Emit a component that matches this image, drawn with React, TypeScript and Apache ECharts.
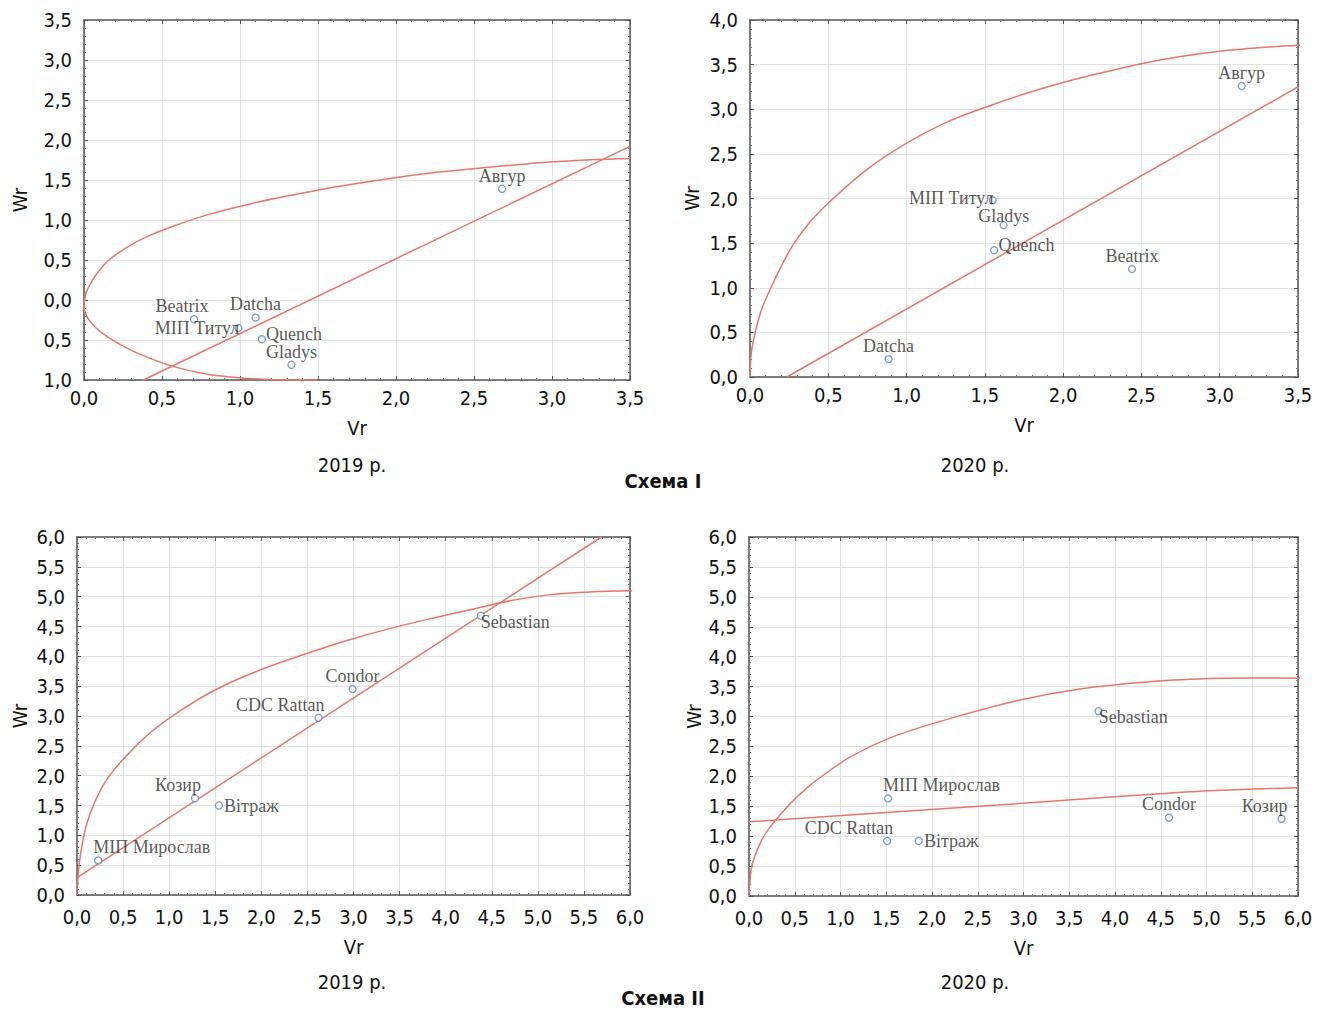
import React, { useEffect, useRef } from "react";
import * as echarts from "echarts";

// ---------- Схема I, 2019 р. ----------
const s1y19Names = ["Авгур", "Beatrix", "Datcha", "МІП Титул", "Quench", "Gladys"];
const s1y19Vr = [2.68, 0.705, 1.10, 0.99, 1.14, 1.33];
const s1y19Wr = [1.39, -0.24, -0.22, -0.35, -0.49, -0.81];
const s1y19UpperVr = [0, 0.004, 0.016, 0.04, 0.09, 0.16, 0.26, 0.38, 0.54, 0.8, 1.085, 1.357, 1.628, 1.899, 2.171, 2.442, 2.713, 2.984, 3.256, 3.5];
const s1y19UpperWr = [-0.1, 0.0, 0.1, 0.2, 0.35, 0.5, 0.64, 0.77, 0.9, 1.07, 1.21, 1.32, 1.42, 1.5, 1.575, 1.63, 1.68, 1.725, 1.754, 1.77];
const s1y19LowerVr = [0, 0.01, 0.04, 0.1, 0.2, 0.35, 0.57, 0.8, 1.05, 1.3, 1.49];
const s1y19LowerWr = [-0.1, -0.17, -0.27, -0.39, -0.52, -0.67, -0.83, -0.93, -0.98, -1.0, -1.0];
const s1y19LineVr = [0.38, 3.5];
const s1y19LineWr = [-1.0, 1.92];

// ---------- Схема I, 2020 р. ----------
const s1y20Names = ["Авгур", "МІП Титул", "Gladys", "Quench", "Beatrix", "Datcha"];
const s1y20Vr = [3.14, 1.55, 1.62, 1.56, 2.44, 0.885];
const s1y20Wr = [3.26, 1.98, 1.70, 1.42, 1.21, 0.2];
const s1y20UpperVr = [0, 0.008, 0.032, 0.073, 0.127, 0.194, 0.275, 0.38, 0.5, 0.75, 1.0, 1.25, 1.5, 1.75, 2.0, 2.25, 2.5, 2.75, 3.0, 3.25, 3.55];
const s1y20UpperWr = [0, 0.265, 0.49, 0.75, 0.975, 1.22, 1.48, 1.73, 1.95, 2.33, 2.62, 2.85, 3.02, 3.17, 3.3, 3.41, 3.51, 3.59, 3.65, 3.69, 3.72];
const s1y20LineVr = [0.235, 3.5];
const s1y20LineWr = [0, 3.25];

// ---------- Схема II, 2019 р. ----------
const s2y19Names = ["Sebastian", "Condor", "CDC Rattan", "Козир", "Вітраж", "МІП Мирослав"];
const s2y19Vr = [4.38, 2.99, 2.62, 1.28, 1.54, 0.23];
const s2y19Wr = [4.68, 3.45, 2.97, 1.62, 1.5, 0.58];
const s2y19UpperVr = [0, 0.014, 0.041, 0.1, 0.19, 0.33, 0.54, 0.81, 1.13, 1.54, 2.0, 2.46, 2.92, 3.38, 3.83, 4.29, 4.7, 5.12, 5.57, 6.1];
const s2y19UpperWr = [0, 0.37, 0.71, 1.16, 1.55, 1.95, 2.34, 2.74, 3.1, 3.47, 3.78, 4.03, 4.26, 4.46, 4.63, 4.79, 4.93, 5.03, 5.08, 5.1];
const s2y19LineVr = [0, 5.69];
const s2y19LineWr = [0.29, 6.0];

// ---------- Схема II, 2020 р. ----------
const s2y20Names = ["Sebastian", "МІП Мирослав", "Condor", "Козир", "CDC Rattan", "Вітраж"];
const s2y20Vr = [3.82, 1.52, 4.59, 5.82, 1.51, 1.855];
const s2y20Wr = [3.09, 1.63, 1.31, 1.29, 0.92, 0.92];
const s2y20UpperVr = [0, 0.023, 0.06, 0.138, 0.22, 0.323, 0.46, 0.646, 0.85, 1.108, 1.57, 2.26, 2.95, 3.65, 4.34, 5.03, 5.49, 6.09];
const s2y20UpperWr = [0, 0.434, 0.65, 0.935, 1.13, 1.324, 1.56, 1.825, 2.06, 2.326, 2.66, 2.994, 3.272, 3.467, 3.578, 3.634, 3.645, 3.64];
const s2y20LineVr = [0, 1.34, 2.72, 4.11, 5.03, 6.0];
const s2y20LineWr = [1.24, 1.38, 1.52, 1.67, 1.76, 1.81];

// ---------- styles (not data) ----------
const SANS = "'DejaVu Sans Condensed', 'Liberation Sans Narrow', sans-serif";
const SERIF = "'Liberation Serif', 'DejaVu Serif', serif";
const CURVE = "#e3786c";
const POINT = "#5683c2";

const PLACE: Record<string, any> = {
  top: { position: "top", distance: 0 },
  topLow: { position: "top", distance: -4 },
  topShiftL: { position: "top", distance: 0, offset: [-12, 0] },
  right: { position: "right", distance: 1 },
  rightUp: { position: "right", distance: 0, offset: [0, -5] },
  left: { position: "left", distance: -5 },
  leftUp: { position: "left", distance: -5, offset: [0, -2] },
  topEnd: { position: "top", distance: 0, align: "right", offset: [6, 0] },
  topStart: { position: "top", distance: 0, align: "left", offset: [-5, 0] },
  rightLow: { position: "right", distance: 0, offset: [-4, 6] },
};

const placements = [
  { "Авгур": "top", Beatrix: "topShiftL", Datcha: "top", "МІП Титул": "left", Quench: "rightUp", Gladys: "top" },
  { "Авгур": "top", "МІП Титул": "leftUp", Gladys: "topLow", Quench: "rightUp", Beatrix: "top", Datcha: "top" },
  { Sebastian: "rightLow", Condor: "top", "CDC Rattan": "topEnd", "Козир": "topEnd", "Вітраж": "right", "МІП Мирослав": "topStart" },
  { Sebastian: "rightLow", "МІП Мирослав": "topStart", Condor: "top", "Козир": "topEnd", "CDC Rattan": "topEnd", "Вітраж": "right" },
] as Record<string, string>[];

const grids = [
  { left: 84, top: 20, width: 546, height: 360 },
  { left: 750, top: 20, width: 548, height: 357 },
  { left: 77, top: 537, width: 553, height: 358 },
  { left: 749, top: 537, width: 549, height: 359 },
];

const xRanges = [[0, 3.5], [0, 3.5], [0, 6], [0, 6]];
const yRanges = [[-1, 3.5], [0, 4], [0, 6], [0, 6]];
const xNameGaps = [38, 38, 42, 42];
const xLabelMargins = [8, 8, 12, 12];
const yNameGaps = [54, 48, 47, 45];

const fmt = (v: number) => Math.abs(v).toFixed(1).replace(".", ",");
const zip = (a: number[], b: number[]) => a.map((v, i) => [v, b[i]]);

function scatterSeries(idx: number, names: string[], vr: number[], wr: number[]) {
  const place = placements[idx];
  return {
    type: "scatter",
    xAxisIndex: idx,
    yAxisIndex: idx,
    symbol: "circle",
    symbolSize: 7,
    z: 5,
    silent: true,
    itemStyle: { color: "#ffffff", borderColor: POINT, borderWidth: 1.3 },
    label: { show: true, formatter: "{b}", fontFamily: SERIF, fontSize: 18, color: "#2b2b2b" },
    data: names.map((n, i) => ({
      name: n,
      value: [vr[i], wr[i]],
      label: PLACE[place[n] || "top"],
    })),
  };
}

function curveSeries(idx: number, vr: number[], wr: number[]) {
  return {
    type: "line",
    xAxisIndex: idx,
    yAxisIndex: idx,
    data: zip(vr, wr),
    showSymbol: false,
    smooth: 0.35,
    clip: false,
    silent: true,
    z: 3,
    lineStyle: { color: CURVE, width: 1.5 },
  };
}

export default function App() {
  const ref = useRef<HTMLDivElement>(null);
  useEffect(() => {
    if (!ref.current) return;
    const chart = echarts.init(ref.current, undefined, { renderer: "svg" });
    const axisText = { fontFamily: SANS, fontSize: 20, color: "#111" };
    const frameLine = { show: true, onZero: false, lineStyle: { color: "#555", width: 1.5 } };
    const tick = { show: true, inside: true, length: 4, lineStyle: { color: "#555" } };
    const minor = { show: true, splitNumber: 5, length: 2, lineStyle: { color: "#777" } };
    const xAxes: any[] = [];
    const yAxes: any[] = [];
    grids.forEach((_, i) => {
      xAxes.push({
        type: "value",
        gridIndex: i,
        position: "bottom",
        min: xRanges[i][0],
        max: xRanges[i][1],
        interval: 0.5,
        name: "Vr",
        nameLocation: "middle",
        nameGap: xNameGaps[i],
        nameTextStyle: axisText,
        axisLine: frameLine,
        axisTick: tick,
        minorTick: minor,
        axisLabel: { ...axisText, margin: xLabelMargins[i], formatter: fmt, showMinLabel: true, showMaxLabel: true },
        splitLine: { show: true, lineStyle: { color: "#e2e2e2", width: 1 } },
      });
      yAxes.push({
        type: "value",
        gridIndex: i,
        position: "left",
        min: yRanges[i][0],
        max: yRanges[i][1],
        interval: 0.5,
        name: "Wr",
        nameLocation: "middle",
        nameGap: yNameGaps[i],
        nameTextStyle: axisText,
        axisLine: frameLine,
        axisTick: tick,
        minorTick: minor,
        axisLabel: { ...axisText, margin: 12, formatter: fmt, showMinLabel: true, showMaxLabel: true },
        splitLine: { show: true, lineStyle: { color: "#e2e2e2", width: 1 } },
      });
    });
    // top / right frame ticks
    grids.forEach((_, i) => {
      xAxes.push({
        type: "value",
        gridIndex: i,
        position: "top",
        min: xRanges[i][0],
        max: xRanges[i][1],
        interval: 0.5,
        axisLine: frameLine,
        axisTick: tick,
        minorTick: minor,
        axisLabel: { show: false },
        splitLine: { show: false },
      });
      yAxes.push({
        type: "value",
        gridIndex: i,
        position: "right",
        min: yRanges[i][0],
        max: yRanges[i][1],
        interval: 0.5,
        axisLine: frameLine,
        axisTick: tick,
        minorTick: minor,
        axisLabel: { show: false },
        splitLine: { show: false },
      });
    });

    const caption = (text: string, x: number, y: number, bold = false) => ({
      type: "text",
      x,
      y,
      silent: true,
      style: {
        text,
        fill: "#111",
        font: `${bold ? "bold " : ""}20px ${SANS}`,
        align: "center",
        verticalAlign: "middle",
      },
    });

    chart.setOption({
      animation: false,
      backgroundColor: "#ffffff",
      grid: grids.map((g) => ({ ...g, containLabel: false })),
      xAxis: xAxes,
      yAxis: yAxes,
      series: [
        curveSeries(0, s1y19UpperVr, s1y19UpperWr),
        curveSeries(0, s1y19LowerVr, s1y19LowerWr),
        curveSeries(0, s1y19LineVr, s1y19LineWr),
        scatterSeries(0, s1y19Names, s1y19Vr, s1y19Wr),
        curveSeries(1, s1y20UpperVr, s1y20UpperWr),
        curveSeries(1, s1y20LineVr, s1y20LineWr),
        scatterSeries(1, s1y20Names, s1y20Vr, s1y20Wr),
        curveSeries(2, s2y19UpperVr, s2y19UpperWr),
        curveSeries(2, s2y19LineVr, s2y19LineWr),
        scatterSeries(2, s2y19Names, s2y19Vr, s2y19Wr),
        curveSeries(3, s2y20UpperVr, s2y20UpperWr),
        curveSeries(3, s2y20LineVr, s2y20LineWr),
        scatterSeries(3, s2y20Names, s2y20Vr, s2y20Wr),
      ],
      graphic: [
        caption("2019 р.", 352, 465),
        caption("2020 р.", 975, 465),
        caption("Схема I", 663, 481, true),
        caption("2019 р.", 352, 982),
        caption("2020 р.", 975, 982),
        caption("Схема II", 663, 998, true),
      ],
    });
    return () => chart.dispose();
  }, []);
  return (
    <div
      ref={ref}
      style={{ position: "absolute", left: 0, top: 0, width: 1324, height: 1012, background: "#fff" }}
    />
  );
}
